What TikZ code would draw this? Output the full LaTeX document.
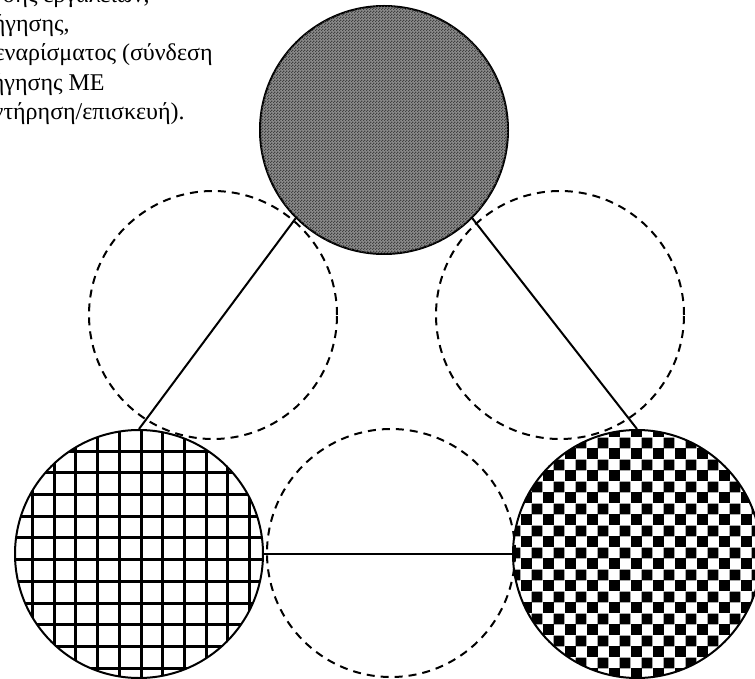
\documentclass[tikz,border=0pt]{standalone}
\usepackage{fontspec}
\setmainfont{Liberation Serif}
\usetikzlibrary{patterns}

\pgfdeclarepatternformonly{finedots}{\pgfpointorigin}{\pgfpoint{1.5pt}{1.5pt}}{\pgfpoint{1.5pt}{1.5pt}}{%
  \pgfpathrectangle{\pgfpointorigin}{\pgfpoint{0.75pt}{0.75pt}}%
  \pgfpathrectangle{\pgfpoint{0.75pt}{0.75pt}}{\pgfpoint{0.75pt}{0.75pt}}%
  \pgfusepath{fill}}
\pgfdeclarepatternformonly{gridhatch}{\pgfpoint{-1pt}{-1pt}}{\pgfpoint{11.85pt}{11.85pt}}{\pgfpoint{10.85pt}{10.85pt}}{%
  \pgfsetlinewidth{1.5pt}%
  \pgfpathmoveto{\pgfpoint{5.4pt}{-1pt}}\pgfpathlineto{\pgfpoint{5.4pt}{11.85pt}}%
  \pgfpathmoveto{\pgfpoint{-1pt}{5.4pt}}\pgfpathlineto{\pgfpoint{11.85pt}{5.4pt}}%
  \pgfusepath{stroke}}
\pgfdeclarepatternformonly{checkboard}{\pgfpointorigin}{\pgfpoint{10.85pt}{10.85pt}}{\pgfpoint{10.85pt}{10.85pt}}{%
  \pgfpathrectangle{\pgfpointorigin}{\pgfpoint{5.45pt}{5.45pt}}%
  \pgfpathrectangle{\pgfpoint{5.4pt}{5.4pt}}{\pgfpoint{5.45pt}{5.45pt}}%
  \pgfusepath{fill}}

\begin{document}
\begin{tikzpicture}[x=0.5pt,y=-0.5pt,
    ring node/.style={circle,draw,line width=1pt,inner sep=0pt,minimum size=124pt},
    gap node/.style={ring node,dash pattern=on 4pt off 3pt},
    text line/.style={anchor=base east,inner sep=0pt,font=\fontsize{12}{14}\selectfont}]
  \useasboundingbox (0,0) rectangle (755,679);
  \clip (0,0) rectangle (755,679);

  % text, cut at the left edge
  \node[text line] (t1) at (150,3) {σης εργαλείων,};
  \node[text line] (t2) at (70,32) {ήγησης,};
  \node[text line] (t3) at (213,61) {εναρίσματος (σύνδεση};
  \node[text line] (t4) at (105,90.5) {ήγησης ΜΕ};
  \node[text line] (t5) at (185,120) {ντήρηση/επισκευή).};

  % the three filled circles
  \node[ring node,fill=black!45,postaction={pattern=finedots,pattern color=black!75}] (a) at (384,130) {};
  \node[ring node,fill=white,postaction={pattern=gridhatch}] (b) at (139,554) {};
  \node[ring node,fill=white,postaction={pattern=checkboard}] (c) at (637,554) {};

  % the dashed circles between them
  \node[gap node] (d) at (213,315) {};
  \node[gap node] (e) at (560,315) {};
  \node[gap node] (f) at (391,553) {};

  \path[-,line width=1pt] (a.south west) edge (b.north);
  \path[-,line width=1pt] (a.south east) edge (c.north);
  \path[-,line width=1pt] (b.east) edge (c.west);
\end{tikzpicture}
\end{document}
